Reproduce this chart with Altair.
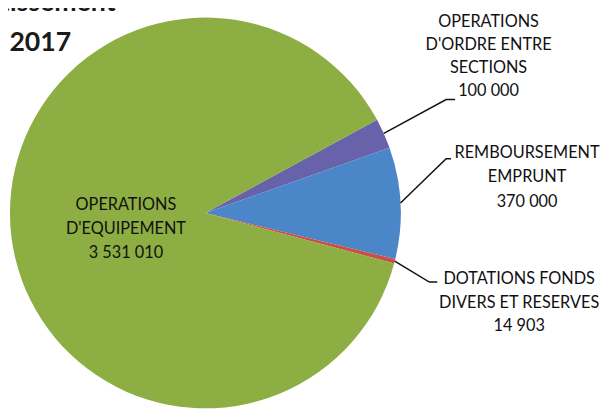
import math
import altair as alt
import pandas as pd

# ---- data ----
categories = ["OPERATIONS D'ORDRE ENTRE SECTIONS", "REMBOURSEMENT EMPRUNT",
              "DOTATIONS FONDS DIVERS ET RESERVES", "OPERATIONS D'EQUIPEMENT"]
values = [100000, 370000, 14903, 3531010]
colors = ["#6862aa", "#4a86c8", "#c85046", "#8cae42"]
label_words = [
    ["OPERATIONS", "D'ORDRE ENTRE", "SECTIONS"],
    ["REMBOURSEMENT", "EMPRUNT"],
    ["DOTATIONS FONDS", "DIVERS ET RESERVES"],
    ["OPERATIONS", "D'EQUIPEMENT"],
]
title_lines = ["Section d'investissement", "Budget principal 2017"]

# ---- layout (chart pixel coordinates) ----
W, H = 606, 406
CX, CY, R = 200, 205, 198
START_DEG = 61.5
label_pos = [(487, 12, 23.3), (526, 144, 25), (518, 272, 24), (119.5, 197, 24.5)]
leader_bends = [[(444, 90), (453, 90)], [(444, 150), (449, 150)],
                [(427, 275), (435, 275)], None]
title_pos = [(109, 0), (64, 41)]


def fmt(v):
    return f"{v:,}".replace(",", " ")


pie_df = pd.DataFrame({"cat": categories, "val": values, "idx": list(range(len(values)))})

total = float(sum(values))
start_rad = math.radians(START_DEG)

# leader lines, starting at the slice mid-angle on the rim
line_rows = []
cum = 0.0
for i, v in enumerate(values):
    mid = start_rad + (cum + v / 2) / total * 2 * math.pi
    cum += v
    if leader_bends[i] is None:
        continue
    pts = [(CX + R * math.sin(mid), CY - R * math.cos(mid))] + leader_bends[i]
    for k, (px, py) in enumerate(pts):
        line_rows.append({"sid": i, "k": k, "px": px, "py": py})
line_df = pd.DataFrame(line_rows)

text_rows = []
for i, (words, v) in enumerate(zip(label_words, values)):
    x0, y0, lh = label_pos[i]
    for j, t in enumerate(words + [fmt(v)]):
        text_rows.append({"px": x0, "py": y0 + j * lh, "t": t})
text_df = pd.DataFrame(text_rows)

title_df = pd.DataFrame({"px": [p[0] for p in title_pos], "py": [p[1] for p in title_pos],
                         "t": title_lines})

pie = alt.Chart(pie_df).mark_arc(radius=R).encode(
    theta=alt.Theta("val:Q", stack=True,
                    scale=alt.Scale(range=[start_rad, start_rad + 2 * math.pi])),
    color=alt.Color("cat:N", scale=alt.Scale(domain=categories, range=colors), legend=None),
    order=alt.Order("idx:Q"),
    x=alt.value(CX),
    y=alt.value(CY),
)

leaders = alt.Chart(line_df).mark_line(color="#111111", strokeWidth=1.5).encode(
    x=alt.X("px:Q", scale=None, axis=None),
    y=alt.Y("py:Q", scale=None, axis=None),
    detail="sid:N",
    order="k:Q",
)

labels = alt.Chart(text_df).mark_text(font="Lato", fontSize=16.5, color="#111111",
                                      align="center", baseline="middle").encode(
    x=alt.X("px:Q", scale=None, axis=None),
    y=alt.Y("py:Q", scale=None, axis=None),
    text="t:N",
)

title = alt.Chart(title_df).mark_text(font="Lato", fontSize=27, fontWeight="bold",
                                      color="#1a1a1a", align="right",
                                      baseline="alphabetic").encode(
    x=alt.X("px:Q", scale=None, axis=None),
    y=alt.Y("py:Q", scale=None, axis=None),
    text="t:N",
)

chart = alt.layer(pie, leaders, labels, title).properties(
    width=W, height=H, padding=0,
    autosize=alt.AutoSizeParams(type="none"),
).configure_view(strokeWidth=0)

chart.save("out.html", embed_options={"renderer": "svg", "actions": False})
